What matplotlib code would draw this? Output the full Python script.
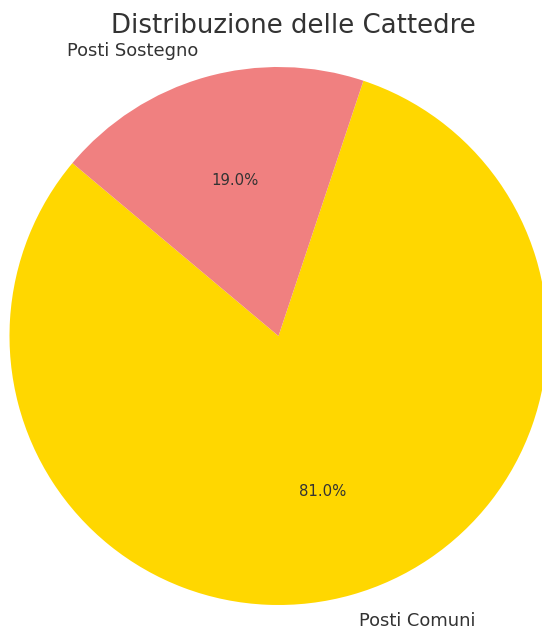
import matplotlib.pyplot as plt

labels = ['Posti Comuni', 'Posti Sostegno']
shares = [81.0, 19.0]
colors = ['gold', 'lightcoral']

W, H = 542, 629
fig = plt.figure(figsize=(W / 100, H / 100), dpi=100)

# pie of radius 1 centred at (278, 336) px, 269 px radius
r_px = 269
cx, cy = 278.5, H - 336
lim = 1.25
side = 2 * lim * r_px
ax = fig.add_axes([(cx - side / 2) / W, (cy - side / 2) / H, side / W, side / H])

wedges, texts, autotexts = ax.pie(shares, labels=labels, colors=colors,
                                  autopct='%1.1f%%', startangle=140,
                                  textprops={'fontsize': 12.9, 'color': '#333333'})
for t in autotexts:
    t.set_fontsize(10.7)
ax.set_xlim(-lim, lim)
ax.set_ylim(-lim, lim)
ax.set_aspect('equal')
ax.axis('off')

fig.text(293.5 / W, (H - 33) / H, 'Distribuzione delle Cattedre',
         ha='center', va='baseline', fontsize=18.7, color='#333333')

fig.savefig('out.png', dpi=100)
